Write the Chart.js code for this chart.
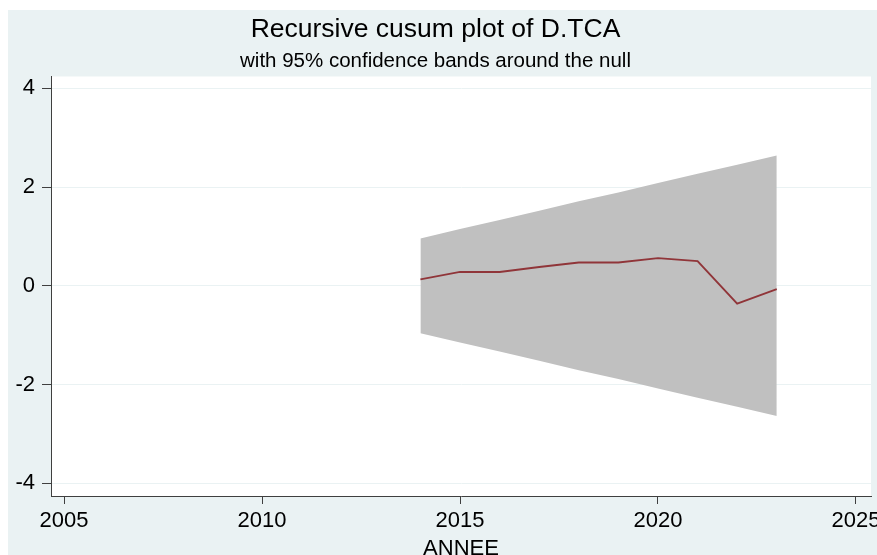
<!DOCTYPE html>
<html>
<head>
<meta charset="utf-8">
<script src="https://cdn.jsdelivr.net/npm/chart.js@4/dist/chart.umd.min.js"></script>
<style>
  html, body { margin: 0; padding: 0; background: #ffffff; }
  #wrap { width: 877px; height: 555px; }
</style>
</head>
<body>
<div id="wrap"><canvas id="c" width="877" height="555"></canvas></div>
<script>
// Recursive CUSUM of D.TCA with 95% confidence bands
const years     = [2014, 2015, 2016, 2017, 2018, 2019, 2020, 2021, 2022, 2023];
const cusum     = [0.13, 0.28, 0.28, 0.38, 0.47, 0.47, 0.56, 0.50, -0.36, -0.07];
const upperBand = [0.96, 1.15, 1.33, 1.52, 1.71, 1.89, 2.08, 2.27, 2.45, 2.64];
const lowerBand = [-0.96, -1.15, -1.33, -1.52, -1.71, -1.89, -2.08, -2.27, -2.45, -2.64];
const xTicks    = [2005, 2010, 2015, 2020, 2025];
const yTicks    = [-4, -2, 0, 2, 4];

const FONT = "'Liberation Sans', Arial, Helvetica, sans-serif";
const BG = '#EAF2F3';
const AXIS = '#3f3f3f';

const pts = arr => years.map((yr, i) => ({ x: yr, y: arr[i] }));

// Paints the outer graph region and the white plot region
const backdrop = {
  id: 'backdrop',
  beforeDraw(chart) {
    const { ctx, width, height, chartArea: a } = chart;
    ctx.save();
    ctx.fillStyle = '#ffffff';
    ctx.fillRect(0, 0, width, height);
    ctx.fillStyle = BG;
    ctx.fillRect(8, 10, width - 8, height - 10);
    ctx.fillStyle = '#ffffff';
    ctx.fillRect(a.left, a.top, a.right - a.left, a.bottom - a.top);
    ctx.restore();
  }
};

new Chart(document.getElementById('c'), {
  type: 'line',
  data: {
    datasets: [
      {
        label: 'CUSUM',
        data: pts(cusum),
        borderColor: '#903539',
        borderWidth: 1.9,
        pointRadius: 0,
        tension: 0,
        fill: false,
        order: 0
      },
      {
        label: 'upper',
        data: pts(upperBand),
        borderWidth: 0,
        borderColor: 'rgba(0,0,0,0)',
        pointRadius: 0,
        fill: false,
        order: 1
      },
      {
        label: 'lower',
        data: pts(lowerBand),
        borderWidth: 0,
        borderColor: 'rgba(0,0,0,0)',
        backgroundColor: '#C0C0C0',
        pointRadius: 0,
        fill: '-1',
        order: 1
      }
    ]
  },
  options: {
    responsive: false,
    animation: false,
    layout: { padding: { left: 0, right: 6, top: 0, bottom: 0 } },
    plugins: {
      legend: { display: false },
      tooltip: { enabled: false },
      title: {
        display: true,
        text: 'Recursive cusum plot of D.TCA',
        color: '#000000',
        font: { family: FONT, size: 26.5, weight: 'normal', lineHeight: 1.2 },
        padding: { top: 13.5, bottom: 0 }
      },
      subtitle: {
        display: true,
        text: 'with 95% confidence bands around the null',
        color: '#000000',
        font: { family: FONT, size: 20.5, weight: 'normal', lineHeight: 1.2 },
        padding: { top: 4.2, bottom: 2.4 }
      }
    },
    scales: {
      x: {
        type: 'linear',
        min: 2004.67,
        max: 2025.38,
        afterBuildTicks: s => { s.ticks = xTicks.map(v => ({ value: v })); },
        afterFit: s => { s.height = 59; s.paddingLeft = 0; s.paddingRight = 0; },
        border: { display: true, color: AXIS, width: 1 },
        grid: { drawOnChartArea: false, tickLength: 8, tickColor: AXIS, tickWidth: 1 },
        ticks: {
          color: '#000000',
          font: { family: FONT, size: 22 },
          padding: 3.3,
          maxRotation: 0,
          callback: v => String(v)
        },
        title: {
          display: true,
          text: 'ANNEE',
          color: '#000000',
          font: { family: FONT, size: 22, lineHeight: 0.55 },
          padding: { top: 0, bottom: 0 }
        }
      },
      y: {
        type: 'linear',
        min: -4.26,
        max: 4.24,
        afterBuildTicks: s => { s.ticks = yTicks.map(v => ({ value: v })); },
        afterFit: s => { s.width = 51; },
        border: { display: true, color: AXIS, width: 1 },
        grid: { color: BG, lineWidth: 1, tickLength: 9, tickColor: AXIS, tickWidth: 1 },
        ticks: {
          color: '#000000',
          font: { family: FONT, size: 22 },
          padding: 7,
          callback: v => String(v)
        }
      }
    }
  },
  plugins: [backdrop]
});
</script>
</body>
</html>
